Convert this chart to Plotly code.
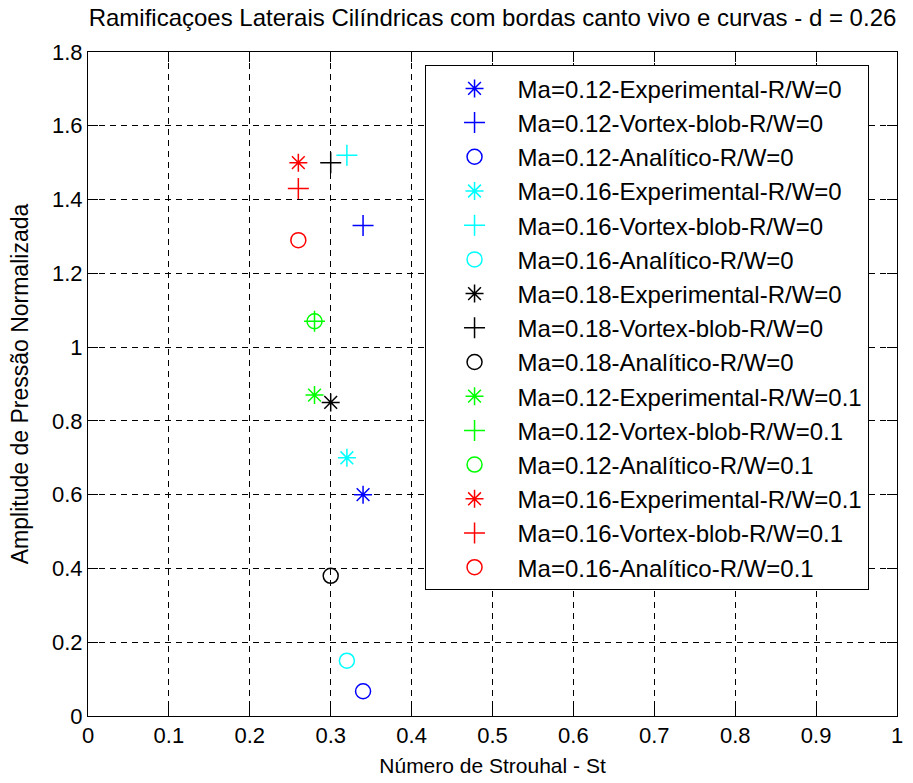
import plotly.graph_objects as go

# ---- data ----
series_names = [
    "Ma=0.12-Experimental-R/W=0",
    "Ma=0.12-Vortex-blob-R/W=0",
    "Ma=0.12-Analítico-R/W=0",
    "Ma=0.16-Experimental-R/W=0",
    "Ma=0.16-Vortex-blob-R/W=0",
    "Ma=0.16-Analítico-R/W=0",
    "Ma=0.18-Experimental-R/W=0",
    "Ma=0.18-Vortex-blob-R/W=0",
    "Ma=0.18-Analítico-R/W=0",
    "Ma=0.12-Experimental-R/W=0.1",
    "Ma=0.12-Vortex-blob-R/W=0.1",
    "Ma=0.12-Analítico-R/W=0.1",
    "Ma=0.16-Experimental-R/W=0.1",
    "Ma=0.16-Vortex-blob-R/W=0.1",
    "Ma=0.16-Analítico-R/W=0.1",
]
strouhal = [0.34, 0.34, 0.34, 0.32, 0.32, 0.32, 0.30, 0.30, 0.30, 0.28, 0.28, 0.28, 0.26, 0.26, 0.26]
amplitude = [0.60, 1.33, 0.067, 0.70, 1.52, 0.15, 0.85, 1.50, 0.38, 0.87, 1.07, 1.07, 1.50, 1.43, 1.29]

x_ticks = [0, 0.1, 0.2, 0.3, 0.4, 0.5, 0.6, 0.7, 0.8, 0.9, 1]
x_tick_labels = ["0", "0.1", "0.2", "0.3", "0.4", "0.5", "0.6", "0.7", "0.8", "0.9", "1"]
y_ticks = [0, 0.2, 0.4, 0.6, 0.8, 1.0, 1.2, 1.4, 1.6, 1.8]
y_tick_labels = ["0", "0.2", "0.4", "0.6", "0.8", "1", "1.2", "1.4", "1.6", "1.8"]

# ---- styles ----
colors = ["#0000FF"] * 3 + ["#00FFFF"] * 3 + ["#000000"] * 3 + ["#00FF00"] * 3 + ["#FF0000"] * 3
symbols = ["asterisk-open", "cross-thin-open", "circle-open"] * 5

FONT = "Liberation Sans, Arial, Helvetica, sans-serif"

fig = go.Figure()
for i, name in enumerate(series_names):
    fig.add_trace(go.Scatter(
        x=[strouhal[i]], y=[amplitude[i]], mode="markers", name=name,
        legendgroup=f"g{i}",
        marker=dict(symbol=symbols[i], size=15, color=colors[i],
                    line=dict(color=colors[i], width=1.5)),
    ))

fig.update_layout(
    width=913, height=783,
    margin=dict(l=88, r=10, t=52, b=65),
    paper_bgcolor="white", plot_bgcolor="white",
    font=dict(family=FONT, size=21, color="black"),
    title=dict(text="Ramificaçoes Laterais Cilíndricas com bordas canto vivo e curvas - d = 0.26",
               x=0.5, xref="paper", xanchor="center",
               y=1 - 18 / 783, yref="container", yanchor="middle",
               font=dict(family=FONT, size=24, color="black")),
    showlegend=True,
    legend=dict(x=0.416, y=0.98, xanchor="left", yanchor="top",
                bgcolor="white", bordercolor="black", borderwidth=1,
                font=dict(family=FONT, size=24, color="black"),
                tracegroupgap=0, itemwidth=76, indentation=6),
    xaxis=dict(range=[0, 1], tickvals=x_ticks, ticktext=x_tick_labels,
               showgrid=True, gridcolor="black", griddash="6px,5px", gridwidth=1,
               showline=True, linecolor="black", linewidth=1, mirror="allticks",
               ticks="inside", ticklen=10, tickcolor="black",
               zeroline=False, tickfont=dict(size=22),
               title=dict(text="Número de Strouhal - St", standoff=10,
                          font=dict(family=FONT, size=21))),
    yaxis=dict(range=[0, 1.8], tickvals=y_ticks, ticktext=y_tick_labels,
               showgrid=True, gridcolor="black", griddash="6px,5px", gridwidth=1,
               showline=True, linecolor="black", linewidth=1, mirror="allticks",
               ticks="inside", ticklen=10, tickcolor="black",
               zeroline=False, tickfont=dict(size=22),
               title=dict(text="Amplitude de Pressão Normalizada", standoff=16,
                          font=dict(family=FONT, size=23))),
)

fig.write_html("out.html")
